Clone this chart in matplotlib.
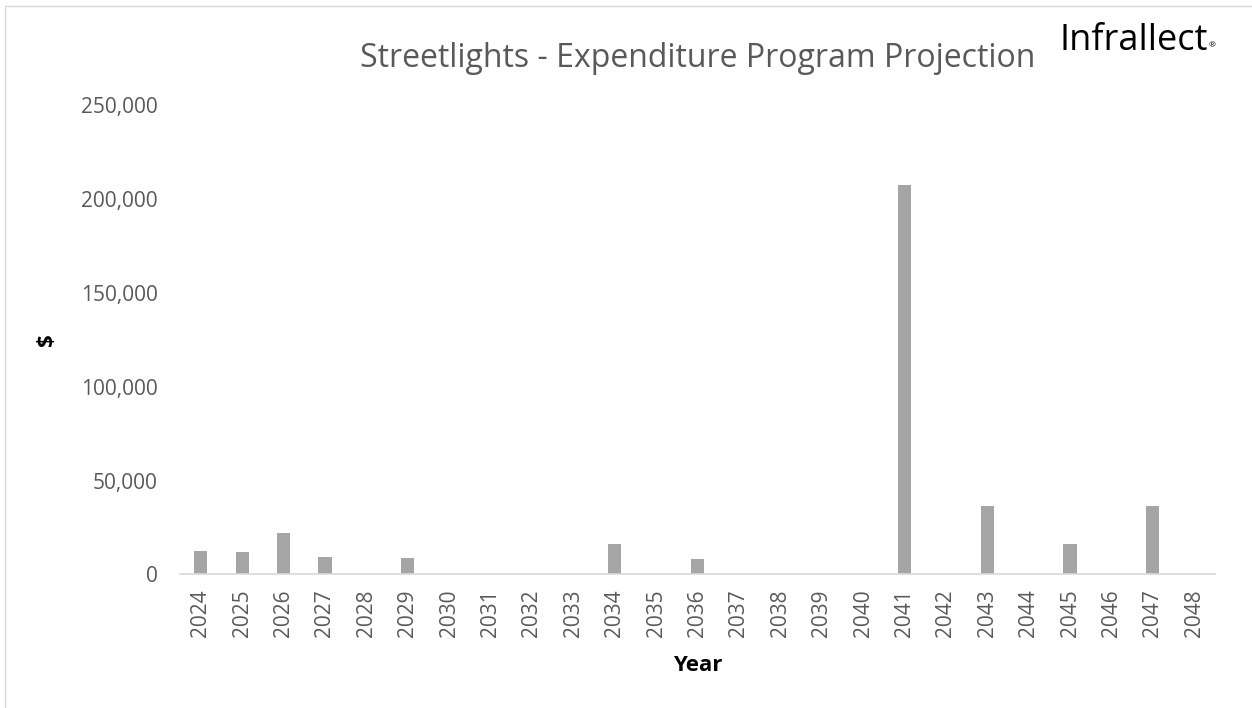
import matplotlib.pyplot as plt
from matplotlib.patches import Rectangle
from matplotlib.ticker import FuncFormatter

years = [str(y) for y in range(2024, 2049)]
spend = [12500, 12000, 22000, 9500, 0, 8800, 0, 0, 0, 0,
         16000, 0, 8000, 0, 0, 0, 0, 207500, 0, 36300,
         0, 16000, 0, 36300, 0]

plt.rcParams['font.family'] = ['Open Sans', 'DejaVu Sans']
grey_txt = '#595959'

fig = plt.figure(figsize=(12.52, 7.08), dpi=100)
ax = fig.add_axes([0.1438, 0.1886, 0.8266, 0.6631])

x = range(len(years))
ax.bar(x, spend, width=0.32, color='#a5a5a5')

ax.set_xlim(-0.5, len(years) - 0.5)
ax.set_ylim(0, 250000)
ax.set_yticks(range(0, 250001, 50000))
ax.yaxis.set_major_formatter(FuncFormatter(lambda v, p: f'{int(v):,}'))
ax.set_xticks(list(x))
ax.set_xticklabels(years, rotation=90)
ax.tick_params(axis='both', length=0, labelsize=15, colors=grey_txt)
ax.tick_params(axis='y', pad=16)
ax.tick_params(axis='x', pad=11)

for s in ['top', 'right', 'left']:
    ax.spines[s].set_visible(False)
ax.spines['bottom'].set_color('#d9d9d9')
ax.spines['bottom'].set_linewidth(1.2)

ax.set_xlabel('Year', fontsize=16, fontweight='bold', color='black')
ax.xaxis.set_label_coords(0.5, -0.172)
ax.set_ylabel('$', fontsize=16, fontweight='bold', color='black')
ax.yaxis.set_label_coords(-0.119, 0.5)

fig.text(0.557, 0.918, 'Streetlights - Expenditure Program Projection',
         ha='center', va='center', fontsize=23, color=grey_txt)
fig.text(0.846, 0.942, 'Infrallect', ha='left', va='center',
         fontsize=26, color='black')
fig.text(0.965, 0.935, '®', ha='left', va='center', fontsize=6, color='black')

# outer chart frame
fig.patches.append(Rectangle((0.004, -0.1), 1.2, 1.092, transform=fig.transFigure,
                             fill=False, edgecolor='#d9d9d9', linewidth=1))

fig.savefig('out.png', dpi=100)
